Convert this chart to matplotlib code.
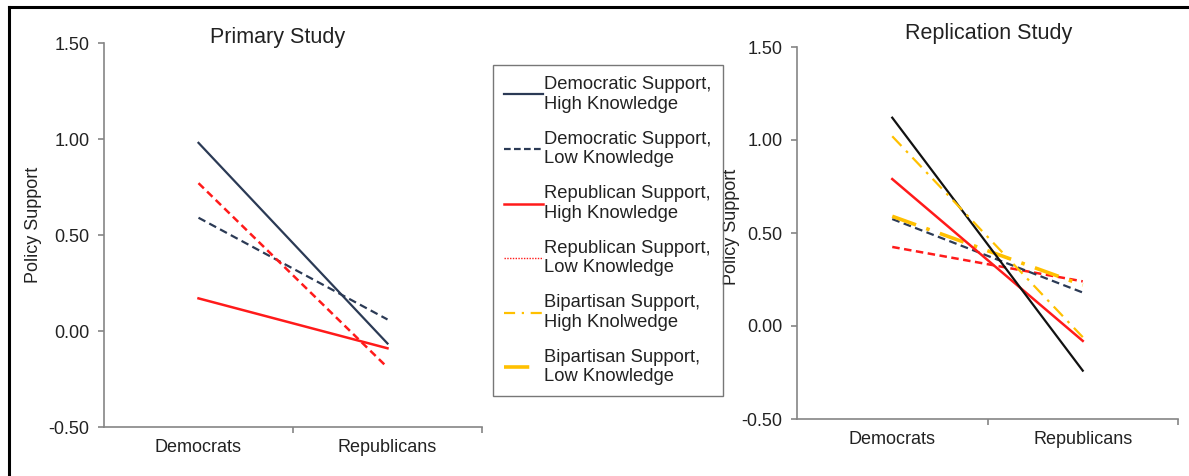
import matplotlib.pyplot as plt
from matplotlib.lines import Line2D

plt.rcParams['font.family'] = ['Liberation Sans', 'DejaVu Sans']

# categories on the x axis
groups = ['Democrats', 'Republicans']

# primary study (Democrats, Republicans)
prim_dem_high = [0.98, -0.065]
prim_dem_low = [0.59, 0.06]
prim_rep_high = [0.17, -0.09]
prim_rep_low = [0.77, -0.19]

# replication study
rep_dem_high = [1.12, -0.24]
rep_dem_low = [0.575, 0.18]
rep_rep_high = [0.79, -0.08]
rep_rep_low = [0.425, 0.24]
rep_bip_high = [1.02, -0.06]
rep_bip_low = [0.59, 0.22]

legend_labels = ['Democratic Support,\nHigh Knowledge',
                 'Democratic Support,\nLow Knowledge',
                 'Republican Support,\nHigh Knowledge',
                 'Republican Support,\nLow Knowledge',
                 'Bipartisan Support,\nHigh Knolwedge',
                 'Bipartisan Support,\nLow Knowledge']

NAVY = '#2b3a55'
RED = '#ff1a1a'
ORANGE = '#ffc000'
GRAY = '#858585'

W, H = 1189, 476
fig = plt.figure(figsize=(W / 100, H / 100), dpi=100)

xs = [0.5, 1.5]


def style_axes(ax, title, title_xy, ylabel_xy):
    ax.set_xlim(0, 2)
    ax.set_ylim(-0.5, 1.5)
    ax.set_yticks([-0.5, 0, 0.5, 1.0, 1.5])
    ax.set_yticklabels(['-0.50', '0.00', '0.50', '1.00', '1.50'])
    ax.set_xticks(xs)
    ax.set_xticklabels(groups)
    ax.set_xticks([1, 2], minor=True)
    for s in ['top', 'right']:
        ax.spines[s].set_visible(False)
    for s in ['left', 'bottom']:
        ax.spines[s].set_color(GRAY)
        ax.spines[s].set_linewidth(1.2)
    ax.tick_params(axis='y', length=4.5, width=1.2, color=GRAY, pad=6, labelsize=13, labelcolor='#222222')
    ax.tick_params(axis='x', which='major', length=0, pad=9, labelsize=13, labelcolor='#222222')
    ax.tick_params(axis='x', which='minor', length=4.5, width=1.2, color=GRAY)
    fig.text(title_xy[0] / W, 1 - title_xy[1] / H, title, ha='center', va='center',
             fontsize=15.5, color='#222222')
    fig.text(ylabel_xy[0] / W, 1 - ylabel_xy[1] / H, 'Policy Support', ha='center', va='center',
             rotation=90, fontsize=13, color='#222222')


# left panel
ax1 = fig.add_axes([104 / W, 1 - 427 / H, 378 / W, 384 / H])
ax1.plot(xs, prim_dem_low, color=NAVY, lw=1.6, ls=(0, (3.5, 2)))
ax1.plot(xs, prim_rep_high, color=RED, lw=1.8)
ax1.plot(xs, prim_rep_low, color=RED, lw=1.8, ls=(0, (3, 1.8)))
ax1.plot(xs, prim_dem_high, color=NAVY, lw=1.6)
style_axes(ax1, 'Primary Study', (278, 37), (33, 225))

# right panel
ax2 = fig.add_axes([797 / W, 1 - 419 / H, 381 / W, 372 / H])
ax2.plot(xs, rep_rep_low, color=RED, lw=1.8, ls=(0, (3, 1.8)))
ax2.plot(xs, rep_dem_low, color=NAVY, lw=1.6, ls=(0, (3.5, 2)))
ax2.plot(xs, rep_bip_low, color=ORANGE, lw=2.6, ls=(0, (7, 3, 1, 3)))
ax2.plot(xs, rep_rep_high, color=RED, lw=1.8)
ax2.plot(xs, rep_dem_high, color='#111111', lw=1.6)
ax2.plot(xs, rep_bip_high, color=ORANGE, lw=1.6, ls=(0, (6, 3, 1.2, 3)))
style_axes(ax2, 'Replication Study', (989, 34), (732, 227))

# legend
handles = [Line2D([], [], color=NAVY, lw=1.6),
           Line2D([], [], color=NAVY, lw=1.6, ls=(0, (3, 1.5))),
           Line2D([], [], color=RED, lw=1.8),
           Line2D([], [], color=RED, lw=1.0, ls=(0, (1, 1))),
           Line2D([], [], color=ORANGE, lw=1.6, ls=(0, (5, 3, 1, 3))),
           Line2D([], [], color=ORANGE, lw=2.6, ls=(0, (7, 5, 1, 5)))]
leg = fig.legend(handles, legend_labels, loc='upper left', bbox_to_anchor=(493 / W, 1 - 65 / H),
                 fontsize=13.2, frameon=True, fancybox=False, handlelength=2.1, handletextpad=0.1,
                 labelspacing=0.98, borderpad=0.6, borderaxespad=0)
leg.get_frame().set_edgecolor('#555555')
leg.get_frame().set_linewidth(1.0)
for t in leg.get_texts():
    t.set_color('#222222')

# outer frame lines (top and left)
fig.add_artist(Line2D([9 / W, 9 / W], [0, 1 - 7 / H], color='black', lw=2.2, transform=fig.transFigure))
fig.add_artist(Line2D([9 / W, 1], [1 - 7 / H, 1 - 7 / H], color='black', lw=2.2, transform=fig.transFigure))

fig.savefig('out.png', dpi=100)
